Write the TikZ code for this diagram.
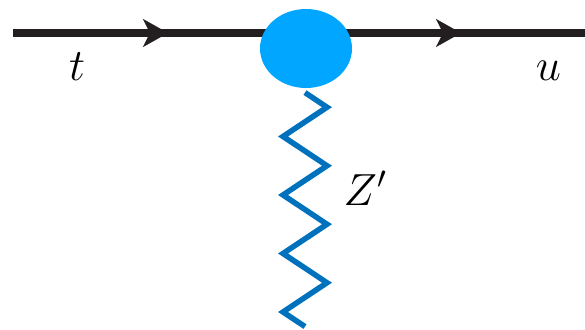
\RequirePackage{fix-cm}
\documentclass[tikz,border=0pt]{standalone}
\usetikzlibrary{arrows.meta,decorations.markings,decorations.pathmorphing,shapes.geometric,backgrounds}
\definecolor{linecol}{RGB}{35,31,32}
\definecolor{blobcol}{RGB}{0,166,255}
\definecolor{zcol}{RGB}{0,114,189}
\tikzset{
  fermion/.style={draw=linecol,line width=7.5pt,
    postaction={decorate},
    decoration={markings,mark=at position 155pt with {\arrow[linecol]{Stealth[length=25pt,width=28pt,inset=7pt,line width=0.4pt]}}}},
  blob/.style={ellipse,fill=blobcol,draw=none,minimum width=92pt,minimum height=79pt,inner sep=0pt},
  boson/.style={draw=zcol,line width=5.5pt,line join=miter,
    decorate,decoration={zigzag,segment length=58.5pt,amplitude=22pt}},
  lbl/.style={anchor=base,inner sep=0pt,font=\fontsize{45}{54}\selectfont}
}
\begin{document}
\begin{tikzpicture}[x=1pt,y=-1pt]
\useasboundingbox (0,0) rectangle (585,329);
\coordinate (in) at (13,33);
\coordinate (out) at (585,33);
\node[blob] (v) at (306,48.5) {};
\coordinate (vtop) at (306,33);
\coordinate (zend) at (305,326.6);
\coordinate (zstart) at (305,92.6);
\begin{scope}[on background layer]
\draw[boson] (zstart) -- (zend);
\draw[fermion] (in) -- (vtop);
\draw[fermion] (vtop) -- (out);
\end{scope}
\node[lbl] (t) at (77,80) {$t$};
\node[lbl] (u) at (548.5,80) {$u$};
\node[lbl] (z) at (365,205) {$Z'$};
\end{tikzpicture}
\end{document}
